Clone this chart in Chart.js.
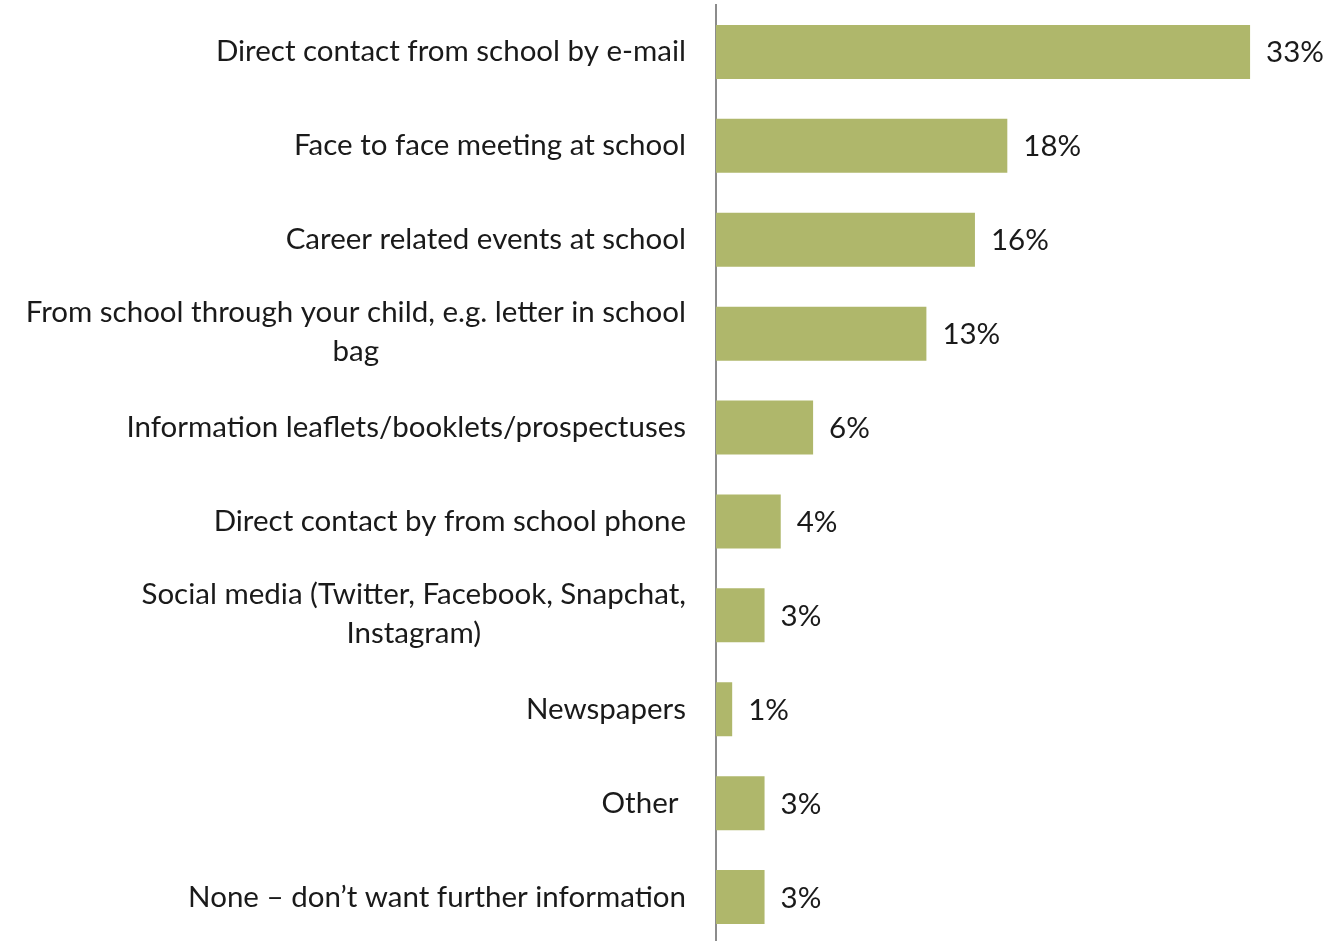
<!DOCTYPE html>
<html lang="en">
<head>
<meta charset="UTF-8">
<title>Preferred ways of receiving information</title>
<script src="https://cdn.jsdelivr.net/npm/chart.js"></script>
<style>
  html, body { margin: 0; padding: 0; background: #ffffff; overflow: hidden; }
  .wrap { width: 1344px; height: 944px; position: relative; }
</style>
</head>
<body>
<div class="wrap">
  <canvas id="infoChart"></canvas>
</div>
<script>
// categories (multi-line ones as arrays) and percentages
const categories = [
  'Direct contact from school by e-mail',
  'Face to face meeting at school',
  'Career related events at school',
  ['From school through your child, e.g. letter in school', 'bag'],
  'Information leaflets/booklets/prospectuses',
  'Direct contact by from school phone',
  ['Social media (Twitter, Facebook, Snapchat,', 'Instagram)'],
  'Newspapers',
  'Other ',
  'None \u2013 don\u2019t want further information'
];
const percentages = [33, 18, 16, 13, 6, 4, 3, 1, 3, 3];

const FONT = '29.5px Lato, "Open Sans", sans-serif';
const TEXT_COLOR = '#1a1a1a';

// category labels: right-aligned block, lines centred within it
const categoryLabels = {
  id: 'categoryLabels',
  afterDraw(chart) {
    const ctx = chart.ctx;
    const y = chart.scales.y;
    const rightEdge = chart.chartArea.left - 30;
    const lineHeight = 39;
    ctx.save();
    ctx.font = FONT;
    ctx.fillStyle = TEXT_COLOR;
    ctx.textAlign = 'center';
    ctx.textBaseline = 'middle';
    categories.forEach((label, i) => {
      const lines = Array.isArray(label) ? label : [label];
      const widest = Math.max(...lines.map(l => ctx.measureText(l).width));
      const cx = rightEdge - widest / 2;
      const cy = y.getPixelForTick(i);
      const startY = cy - (lines.length - 1) * lineHeight / 2 - (lines.length > 1 ? 1.5 : 0);
      lines.forEach((line, k) => ctx.fillText(line, cx, startY + k * lineHeight));
    });
    ctx.restore();
  }
};

// percentage labels at the end of each bar
const valueLabels = {
  id: 'valueLabels',
  afterDatasetsDraw(chart) {
    const ctx = chart.ctx;
    const meta = chart.getDatasetMeta(0);
    ctx.save();
    ctx.font = FONT;
    ctx.fillStyle = TEXT_COLOR;
    ctx.textAlign = 'left';
    ctx.textBaseline = 'middle';
    meta.data.forEach((bar, i) => {
      ctx.fillText(percentages[i] + '%', bar.x + 16, bar.y + 1);
    });
    ctx.restore();
  }
};

new Chart(document.getElementById('infoChart'), {
  type: 'bar',
  data: {
    labels: categories,
    datasets: [{
      data: percentages,
      backgroundColor: '#afb76b',
      borderWidth: 0,
      barPercentage: 0.575,
      categoryPercentage: 1.0
    }]
  },
  options: {
    indexAxis: 'y',
    responsive: true,
    maintainAspectRatio: false,
    animation: false,
    layout: { padding: { top: 5, right: 13, bottom: 0, left: 0 } },
    scales: {
      x: {
        display: false,
        min: 0,
        max: 38
      },
      y: {
        grid: { display: false },
        border: { display: true, color: '#8c8c8c', width: 2 },
        ticks: { display: false },
        afterFit(scale) { scale.width = 716; }
      }
    },
    plugins: {
      legend: { display: false },
      tooltip: { enabled: false }
    }
  },
  plugins: [categoryLabels, valueLabels]
});
</script>
</body>
</html>
